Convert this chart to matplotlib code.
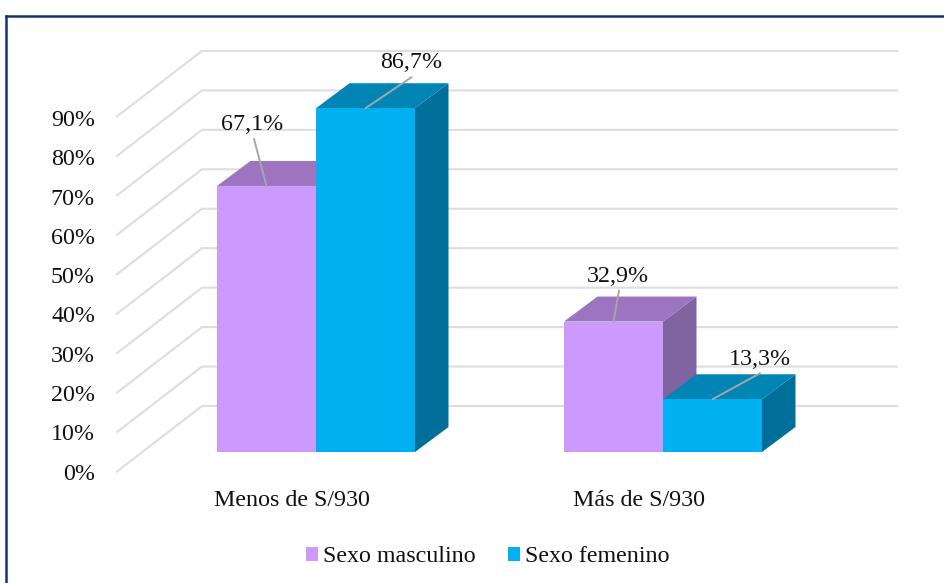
import matplotlib

matplotlib.use("Agg")
import matplotlib.pyplot as plt
from matplotlib.lines import Line2D
from matplotlib.patches import Patch, Polygon

W, H = 945, 583
FS = 17.3
plt.rcParams["font.family"] = ["Liberation Serif", "DejaVu Serif"]

categories = ["Menos de S/930", "Más de S/930"]
series_names = ["Sexo masculino", "Sexo femenino"]
masculino = [67.1, 32.9]
femenino = [86.7, 13.3]
value_labels = [["67,1%", "32,9%"], ["86,7%", "13,3%"]]
ticks = [0, 10, 20, 30, 40, 50, 60, 70, 80, 90]

# pixel scale of the plot: one category = 347 px, one percent = 3.965 px
PX_X = 347.0
PX_Y = 3.965
X0, Y0 = 316.0, 452.0

front = ["#CC99FF", "#00B0F0"]
top = ["#9C74BF", "#0085B5"]
side = ["#8064A2", "#006F99"]
# label and leader offsets in pixels from the bar's top centre
label_off = [[(-14, 61), (4.5, 45)], [(45.5, 46), (47.5, 40)]]
leader_off = [[(-12.5, 47), (5.5, 31)], [(46, 31), (47.5, 26)]]

fig = plt.figure(figsize=(W / 100, H / 100), dpi=100, facecolor="white")
ax = fig.add_axes([0, 0, 1, 1])
ax.set_xlim(-X0 / PX_X, (W - X0) / PX_X)
ax.set_ylim((Y0 - H) / PX_Y, Y0 / PX_Y)
ax.axis("off")

bar_w = 99 / PX_X
dx, dy = 33.5 / PX_X, 25 / PX_Y
wall_x0, wall_x1, wall_x2 = (117 - X0) / PX_X, (202 - X0) / PX_X, (897 - X0) / PX_X
wall_y0, wall_y1 = (Y0 - 471.5) / PX_Y, (Y0 - 406) / PX_Y

# walls and gridlines
for t in ticks:
    ax.plot(
        [wall_x0, wall_x1, wall_x2],
        [t * 0.995 + wall_y0, t * 0.995 + wall_y1, t * 0.995 + wall_y1],
        color="#DEDEDE",
        lw=1.5,
        solid_joinstyle="miter",
        zorder=1,
    )
    ax.text(wall_x0 - 22 / PX_X, t * 0.99 + wall_y0, f"{t}%", ha="right", va="center_baseline", fontsize=FS, color="#111111")

# bars, drawn back to front so the second series covers the first
for s, values in enumerate([masculino, femenino]):
    for c, v in enumerate(values):
        x0 = c + (s - 1) * bar_w
        x1 = x0 + bar_w
        ax.add_patch(Polygon([(x1, 0), (x1 + dx, dy), (x1 + dx, v + dy), (x1, v)], fc=side[s], ec="none", zorder=2))
        ax.add_patch(Polygon([(x0, v), (x0 + dx, v + dy), (x1 + dx, v + dy), (x1, v)], fc=top[s], ec="none", zorder=2))
        ax.bar(x0, v, width=bar_w, align="edge", color=front[s], zorder=2)
        ax.annotate(
            "",
            xy=(x0 + bar_w / 2, v),
            xytext=leader_off[s][c],
            textcoords="offset pixels",
            zorder=3,
            arrowprops={"arrowstyle": "-", "color": "#A6A6A6", "lw": 1.4, "shrinkA": 0, "shrinkB": 0},
        )
        ax.annotate(
            value_labels[s][c],
            xy=(x0 + bar_w / 2, v),
            xytext=label_off[s][c],
            textcoords="offset pixels",
            ha="center",
            va="center",
            fontsize=FS,
            color="#111111",
            zorder=4,
        )

for c, name in enumerate(categories):
    ax.text(c - 24 / PX_X, (Y0 - 500) / PX_Y, name, ha="center", va="center", fontsize=FS, color="#111111")

handles = [Patch(fc=front[i], ec="none", label=series_names[i]) for i in range(2)]
fig.legend(
    handles=handles,
    loc="center",
    bbox_to_anchor=(488 / W, 1 - 557 / H),
    ncols=2,
    frameon=False,
    fontsize=FS,
    handlelength=0.5,
    handleheight=0.5,
    handletextpad=0.21,
    columnspacing=1.33,
    labelcolor="#111111",
)

# frame runs off the right and bottom edges
for xs, ys in [([6.5, W], [15.5, 15.5]), ([6.5, 6.5], [15.5, H])]:
    fig.add_artist(
        Line2D([x / W for x in xs], [1 - y / H for y in ys], color="#17336F", lw=1.8, solid_capstyle="projecting")
    )

fig.savefig("out.png", dpi=100, facecolor="white")
